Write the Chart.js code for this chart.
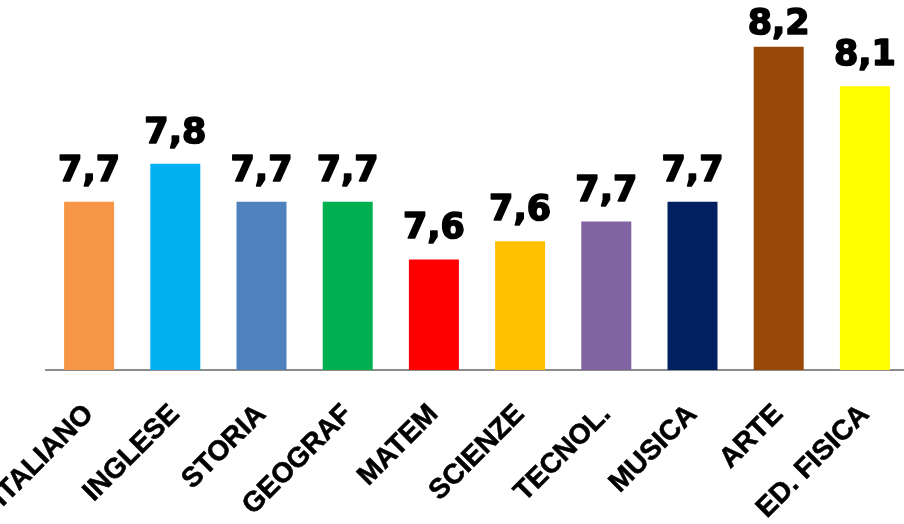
<!DOCTYPE html>
<html>
<head>
<meta charset="utf-8">
<script src="https://cdn.jsdelivr.net/npm/chart.js@4/dist/chart.umd.min.js"></script>
<style>
  html, body { margin: 0; padding: 0; background: #fff; overflow: hidden; width: 904px; height: 524px; }
  #wrap { position: absolute; left: 0; top: 0; width: 908px; height: 524px; }
</style>
</head>
<body>
<div id="wrap"><canvas id="c" width="908" height="524"></canvas></div>
<script>
// Subjects and average grades
const subjects = ['ITALIANO', 'INGLESE', 'STORIA', 'GEOGRAF', 'MATEM', 'SCIENZE', 'TECNOL.', 'MUSICA', 'ARTE', 'ED. FISICA'];
const grades = [7.73, 7.845, 7.73, 7.73, 7.555, 7.61, 7.67, 7.73, 8.20, 8.08];
const barColors = ['#F79646', '#00B0F0', '#4F81BD', '#00B050', '#FF0000', '#FFC000', '#8064A2', '#002060', '#984807', '#FFFF00'];

// Value axis range
const gradeMin = 7.22;
const gradeMax = 8.311;

function formatGrade(v) {
  return (Math.round(v * 10) / 10).toFixed(1).replace('.', ',');
}

// Draws the rounded grade above each bar
const valueLabels = {
  id: 'valueLabels',
  afterDatasetsDraw(chart) {
    const ctx = chart.ctx;
    const meta = chart.getDatasetMeta(0);
    const values = chart.data.datasets[0].data;
    ctx.save();
    ctx.font = 'bold 35px "DejaVu Sans", sans-serif';
    ctx.textAlign = 'center';
    ctx.textBaseline = 'alphabetic';
    ctx.fillStyle = '#000';
    ctx.strokeStyle = '#000';
    ctx.lineWidth = 1.6;
    ctx.lineJoin = 'round';
    meta.data.forEach((bar, i) => {
      const txt = formatGrade(values[i]);
      const y = Math.max(bar.y - 21, 34);
      ctx.fillText(txt, bar.x, y);
      ctx.strokeText(txt, bar.x, y);
    });
    ctx.restore();
  }
};

new Chart(document.getElementById('c'), {
  type: 'bar',
  data: {
    labels: subjects,
    datasets: [{
      data: grades,
      backgroundColor: barColors,
      borderWidth: 0,
      barPercentage: 0.58,
      categoryPercentage: 1.0
    }]
  },
  options: {
    responsive: false,
    animation: false,
    devicePixelRatio: 1,
    layout: { padding: { top: 10, left: 46, right: 0, bottom: 0 } },
    plugins: {
      legend: { display: false },
      tooltip: { enabled: false }
    },
    scales: {
      x: {
        grid: { display: false, drawTicks: false },
        border: { display: true, color: '#8c8c8c', width: 2 },
        ticks: {
          autoSkip: false,
          minRotation: 45,
          maxRotation: 45,
          padding: 28,
          color: '#000',
          textStrokeColor: '#000',
          textStrokeWidth: 0.6,
          font: { family: '"Liberation Sans", Arial, sans-serif', weight: 'bold', size: 28 }
        },
        afterFit(scale) {
          scale.height = 154;
          scale.paddingLeft = 0;
          scale.paddingRight = 0;
        }
      },
      y: {
        display: false,
        min: gradeMin,
        max: gradeMax
      }
    }
  },
  plugins: [valueLabels]
});
</script>
</body>
</html>
